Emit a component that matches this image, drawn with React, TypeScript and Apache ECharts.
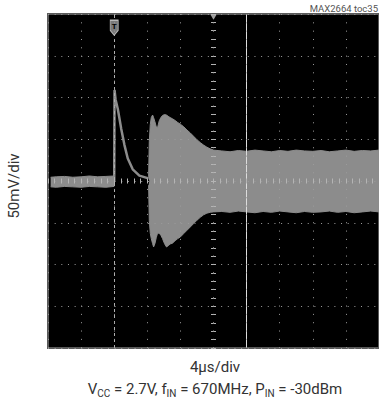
import React, { useEffect, useRef } from "react";
import * as echarts from "echarts";

// time in divisions (4 µs/div), amplitude in divisions (50 mV/div)
const preTime = [0.08, 0.25, 0.5, 0.75, 1.0, 1.25, 1.5, 1.75, 2.0];
const preUpper = [0.09, 0.1, 0.11, 0.09, 0.1, 0.12, 0.1, 0.11, 0.12];
const preLower = [-0.14, -0.15, -0.13, -0.14, -0.15, -0.13, -0.14, -0.15, -0.13];

const decayTime = [2.0, 2.01, 2.04, 2.11, 2.21, 2.31, 2.41, 2.56, 2.76, 2.96, 3.04];
const decayValue = [0.0, 2.18, 1.96, 1.72, 1.26, 0.86, 0.54, 0.28, 0.13, 0.08, 0.06];

const burstTime = [
  3.04, 3.06, 3.09, 3.12, 3.16, 3.19, 3.23, 3.27, 3.31, 3.36, 3.41, 3.46, 3.52, 3.58, 3.63, 3.69,
  3.76, 3.84, 3.92, 4.0, 4.1, 4.2, 4.3, 4.4, 4.5, 4.6, 4.7, 4.8, 4.9, 5.0, 5.25, 5.5, 5.75, 6.0,
  6.25, 6.5, 6.75, 7.0, 7.25, 7.5, 7.75, 8.0, 8.25, 8.5, 8.75, 9.0, 9.25, 9.5, 9.75, 10.0,
];
const burstUpper = [
  0.1, 0.95, 1.35, 1.52, 1.58, 1.52, 1.42, 1.3, 1.28, 1.44, 1.52, 1.57, 1.59, 1.58, 1.55, 1.52,
  1.49, 1.45, 1.4, 1.36, 1.3, 1.22, 1.15, 1.07, 0.99, 0.92, 0.86, 0.81, 0.77, 0.74, 0.72, 0.7,
  0.73, 0.71, 0.74, 0.72, 0.7, 0.73, 0.71, 0.74, 0.72, 0.71, 0.73, 0.7, 0.72, 0.74, 0.71, 0.73,
  0.72, 0.74,
];
const burstLower = [
  -0.1, -0.95, -1.25, -1.38, -1.5, -1.58, -1.5, -1.36, -1.25, -1.25, -1.3, -1.38, -1.5, -1.58,
  -1.55, -1.51, -1.49, -1.43, -1.38, -1.34, -1.26, -1.18, -1.1, -1.02, -0.94, -0.87, -0.81,
  -0.77, -0.75, -0.74, -0.73, -0.75, -0.72, -0.74, -0.76, -0.73, -0.75, -0.72, -0.74, -0.76,
  -0.73, -0.75, -0.74, -0.72, -0.75, -0.73, -0.76, -0.74, -0.72, -0.74,
];

const triggerDiv = 2;
const cursorDiv = 6;
const xLabel = "4μs/div";
const yLabel = "50mV/div";
const condLabel = "V{s|CC} = 2.7V, f{s|IN} = 670MHz, P{s|IN} = -30dBm";
const tocLabel = "MAX2664 toc35";

const WAVE = "#8c8c8c";
const DOT = "#9c9c9c";
const TICK = "#b4b4b4";
const FONT = "Roboto, 'Liberation Sans', sans-serif";

function pairs(t: number[], v: number[]) {
  return t.map((x, i) => [x, v[i]]);
}

function envSeries(t: number[], v: number[]) {
  return {
    type: "line",
    data: pairs(t, v),
    showSymbol: false,
    silent: true,
    lineStyle: { color: WAVE, width: 1 },
    areaStyle: { color: WAVE, opacity: 1, origin: "auto" },
    z: 2,
  };
}

const centerTickAxis = (dim: "x" | "y", position: string) => {
  const base: any = {
    type: "value",
    min: dim === "x" ? 0 : -4,
    max: dim === "x" ? 10 : 4,
    interval: 1,
    position,
    z: 10,
    axisLine: {
      show: true,
      onZero: true,
      onZeroAxisIndex: dim === "x" ? 0 : 1,
      lineStyle: { opacity: 0 },
    },
    axisTick: { show: true, length: 2.5, lineStyle: { color: TICK, width: 1 } },
    minorTick: { show: true, splitNumber: 5, length: 2.5, lineStyle: { color: TICK, width: 1 } },
    axisLabel: { show: false },
    splitLine: { show: false },
  };
  return base;
};

export default function App() {
  const ref = useRef<HTMLDivElement>(null);
  useEffect(() => {
    const chart = echarts.init(ref.current!, null, { renderer: "svg" });
    const option: any = {
      animation: false,
      backgroundColor: "#ffffff",
      grid: {
        left: 48,
        top: 14,
        width: 333,
        height: 334,
        show: true,
        backgroundColor: "#000000",
        borderColor: "#5a5a5a",
        borderWidth: 2,
      },
      xAxis: [
        {
          type: "value",
          min: 0,
          max: 10,
          interval: 1,
          z: 10,
          axisLine: { show: false, onZero: false },
          axisTick: { show: false },
          axisLabel: { show: false },
          splitLine: { show: true, lineStyle: { color: DOT, width: 1, type: [1, 7.33] } },
        },
        { type: "value", min: -5, max: 5, show: false, axisLine: { onZero: false } },
        centerTickAxis("x", "bottom"),
        centerTickAxis("x", "top"),
      ],
      yAxis: [
        {
          type: "value",
          min: -4,
          max: 4,
          interval: 1,
          z: 10,
          axisLine: { show: false, onZero: false },
          axisTick: { show: false },
          axisLabel: { show: false },
          splitLine: { show: true, lineStyle: { color: DOT, width: 1, type: [1, 5.66] } },
        },
        centerTickAxis("y", "left"),
        centerTickAxis("y", "right"),
      ],
      series: [
        envSeries(preTime, preUpper),
        envSeries(preTime, preLower),
        envSeries(burstTime, burstUpper),
        envSeries(burstTime, burstLower),
        {
          type: "line",
          data: pairs(decayTime, decayValue),
          showSymbol: false,
          silent: true,
          lineStyle: { color: WAVE, width: 2.5 },
          z: 3,
          markLine: {
            silent: true,
            symbol: ["none", "none"],
            label: { show: false },
            data: [
              { xAxis: triggerDiv, lineStyle: { type: [3, 3], color: "#b0b0b0", width: 1 } },
              { xAxis: cursorDiv, lineStyle: { type: "solid", color: "#dcdcdc", width: 1 } },
            ],
          },
          markPoint: {
            silent: true,
            data: [
              {
                coord: [triggerDiv, 3.67],
                symbol: "path://M0,0 L10,0 L10,12 L5,18 L0,12 Z",
                symbolSize: [8, 15],
                itemStyle: { color: "#7a7a7a", borderColor: "#b8b8b8", borderWidth: 1 },
                label: {
                  show: true,
                  formatter: "T",
                  color: "#000",
                  fontSize: 8,
                  fontWeight: "bold",
                  fontFamily: FONT,
                  position: "inside",
                  offset: [0, -1],
                },
              },
              {
                coord: [5, 3.92],
                symbol: "triangle",
                symbolRotate: 180,
                symbolSize: [6, 5],
                itemStyle: { color: "#a0a0a0" },
                label: { show: false },
              },
            ],
          },
        },
      ],
      graphic: [
        {
          type: "text",
          x: 378,
          y: 8,
          style: {
            text: tocLabel,
            fontSize: 9.5,
            fontFamily: FONT,
            fill: "#555",
            align: "right",
            verticalAlign: "middle",
          },
        },
        {
          type: "text",
          x: 14,
          y: 186,
          rotation: Math.PI / 2,
          style: {
            text: yLabel,
            fontSize: 15,
            fontFamily: FONT,
            fill: "#333",
            align: "center",
            verticalAlign: "middle",
          },
        },
        {
          type: "text",
          x: 215,
          y: 367,
          style: {
            text: xLabel,
            fontSize: 15,
            fontFamily: FONT,
            fill: "#333",
            align: "center",
            verticalAlign: "middle",
          },
        },
        {
          type: "text",
          x: 215,
          y: 389,
          style: {
            text: condLabel,
            fontSize: 15,
            fontFamily: FONT,
            lineHeight: 18,
            fill: "#333",
            align: "center",
            verticalAlign: "middle",
            rich: {
              s: {
                fontSize: 10,
                fontFamily: FONT,
                lineHeight: 10,
                verticalAlign: "bottom",
                fill: "#333",
              },
            },
          },
        },
      ],
    };
    chart.setOption(option);
    return () => chart.dispose();
  }, []);
  return (
    <div
      ref={ref}
      style={{ position: "absolute", left: 0, top: 0, width: 379, height: 402 }}
    />
  );
}
